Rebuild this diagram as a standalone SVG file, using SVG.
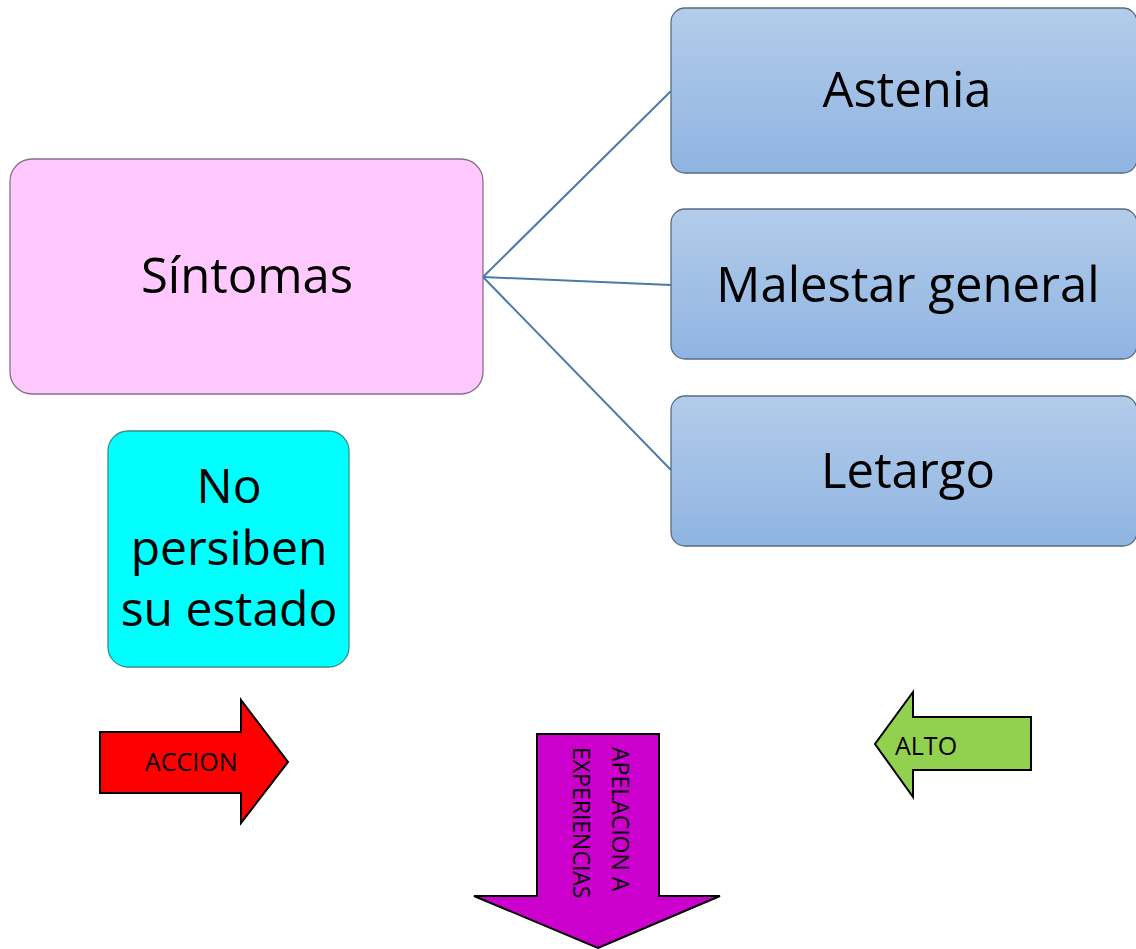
<svg xmlns="http://www.w3.org/2000/svg" width="1136" height="949" viewBox="0 0 1136 949">
<defs>
<linearGradient id="blueGrad" x1="0" y1="0" x2="0" y2="1">
<stop offset="0" stop-color="#B3CCEA"/>
<stop offset="1" stop-color="#8FB4E2"/>
</linearGradient>
</defs>
<style>
.lbl{font-family:"Open Sans","Liberation Sans",sans-serif;fill:#000;}
.big{font-size:49px;text-anchor:middle;}
.mid{font-size:48px;text-anchor:middle;}
.small{font-size:25px;}
.vert{font-size:23px;}
.blue{fill:url(#blueGrad);stroke:#5B6B80;stroke-width:1.3;}
.conn{stroke:#4A7AAA;stroke-width:2;fill:none;}
.arrow{stroke:#000;stroke-width:2;stroke-linejoin:miter;}
</style>
<rect width="1136" height="949" fill="#fff"/>
<g id="connectors">
<line class="conn" x1="483" y1="277" x2="671" y2="91"/>
<line class="conn" x1="483" y1="277" x2="671" y2="285"/>
<line class="conn" x1="483" y1="277" x2="671" y2="470"/>
</g>
<g id="sintomas">
<rect x="10" y="159" width="473" height="235" rx="22" fill="#FFC8FF" stroke="#8A6E8C" stroke-width="1.3"/>
<text class="lbl big" x="247" y="293">Síntomas</text>
</g>
<g id="astenia">
<rect class="blue" x="671" y="8" width="466" height="165" rx="14"/>
<text class="lbl big" x="907" y="107">Astenia</text>
</g>
<g id="malestar">
<rect class="blue" x="671" y="209" width="466" height="150" rx="14"/>
<text class="lbl big" x="908" y="302">Malestar general</text>
</g>
<g id="letargo">
<rect class="blue" x="671" y="396" width="466" height="150" rx="14"/>
<text class="lbl big" x="908" y="488">Letargo</text>
</g>
<g id="noPersiben">
<rect x="108" y="431" width="241" height="236" rx="20" fill="#00FFFF" stroke="#3A8C8C" stroke-width="1.3"/>
<text class="lbl mid" x="229" y="503">No</text>
<text class="lbl mid" x="229" y="565">persiben</text>
<text class="lbl mid" x="229" y="626">su estado</text>
</g>
<g id="accion">
<polygon class="arrow" fill="#FF0000" points="100,732 241,732 241,700 288,762 241,823 241,793 100,793"/>
<text class="lbl small" x="145" y="771">ACCION</text>
</g>
<g id="alto">
<polygon class="arrow" fill="#92D050" points="1031,717 913,717 913,692 875,744 913,797 913,770 1031,770"/>
<text class="lbl small" x="895" y="755">ALTO</text>
</g>
<g id="apelacion">
<polygon class="arrow" fill="#CC00CC" points="537,734 659,734 659,896 720,896 598,948 474,896 537,896"/>
<text class="lbl vert" transform="translate(612,747) rotate(90)">APELACION A</text>
<text class="lbl vert" transform="translate(573,747) rotate(90)">EXPERIENCIAS</text>
</g>
</svg>
